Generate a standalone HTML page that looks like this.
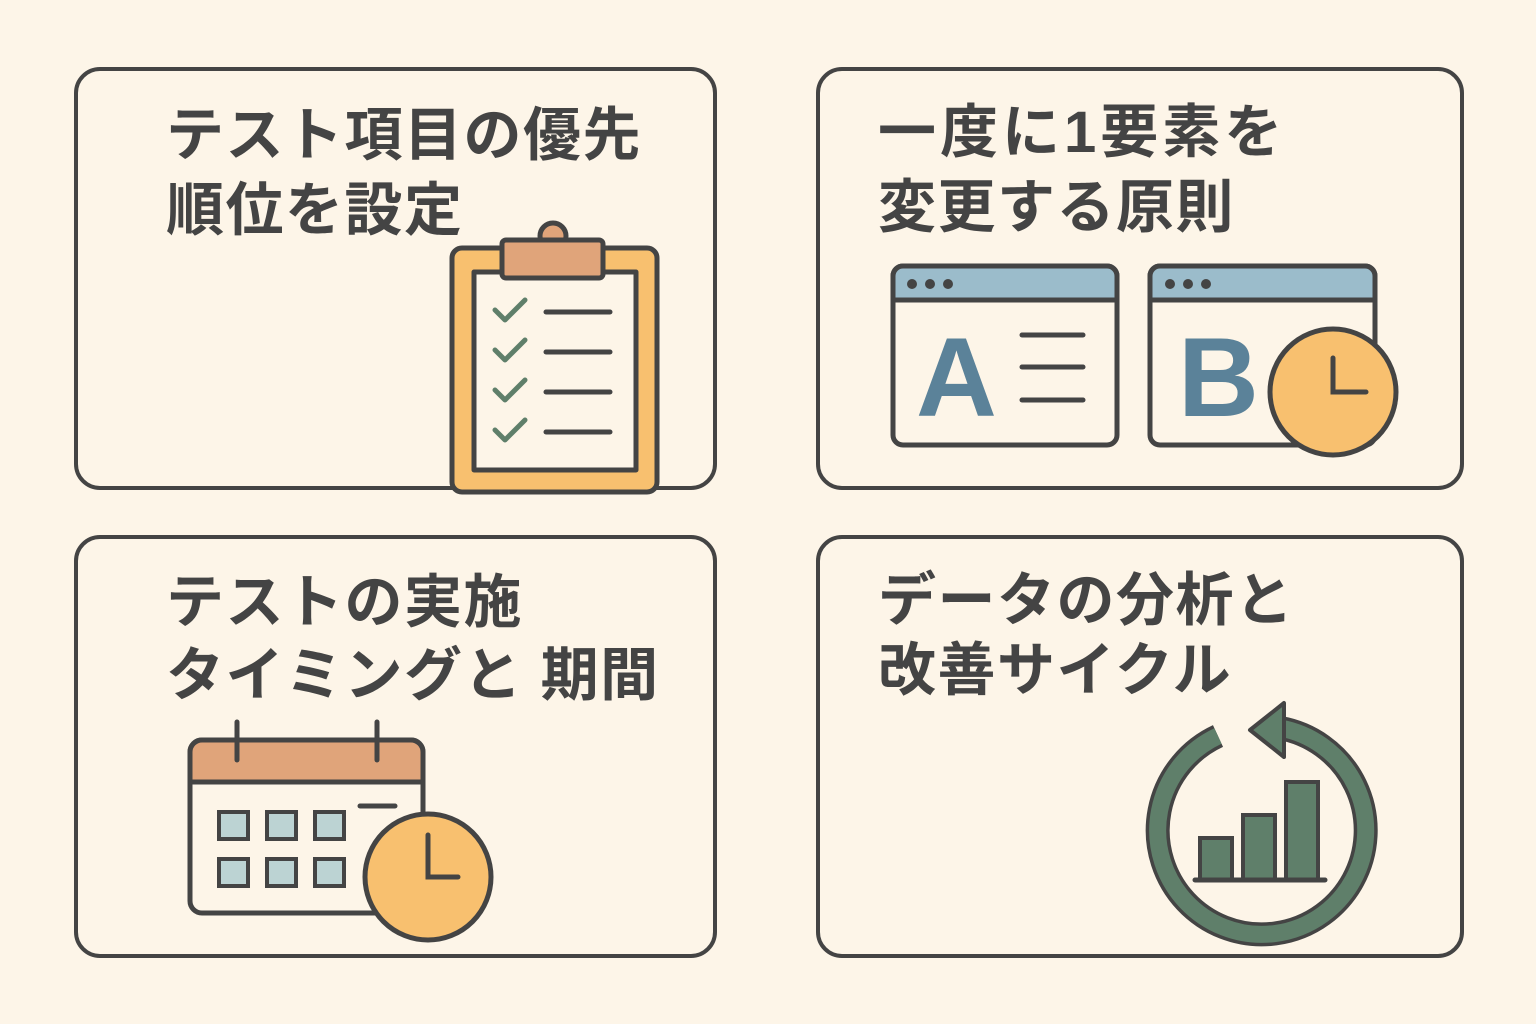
<!DOCTYPE html>
<html><head><meta charset="utf-8"><style>
html,body{margin:0;padding:0;background:#fdf5e8;}
svg{display:block}
text{font-family:"Liberation Sans","Noto Sans CJK JP",sans-serif;font-weight:700;fill:#444;}
</style></head><body>
<svg width="1536" height="1024" viewBox="0 0 1536 1024" xmlns="http://www.w3.org/2000/svg">
<rect width="1536" height="1024" fill="#fdf5e8"/>
<g fill="#fdf5e8" stroke="#444" stroke-width="4">
<rect x="76" y="69" width="639" height="419" rx="24"/>
<rect x="818" y="69" width="644" height="419" rx="24"/>
<rect x="76" y="537" width="639" height="419" rx="24"/>
<rect x="818" y="537" width="644" height="419" rx="24"/>
</g>
<g font-size="58" letter-spacing="1.5">
<text x="166" y="155">テスト項目の優先</text>
<text x="166" y="230">順位を設定</text>
<text x="878" y="152" letter-spacing="4">一度に1要素を</text>
<text x="878" y="227">変更する原則</text>
<text x="166" y="622">テストの実施</text>
<text x="166" y="695">タイミングと 期間</text>
<text x="878" y="620">データの分析と</text>
<text x="878" y="690">改善サイクル</text>
</g>
<!-- clipboard -->
<g stroke="#444" stroke-width="5" stroke-linejoin="round">
<rect x="452" y="248" width="205" height="244" rx="10" fill="#f8c06f"/>
<rect x="474" y="272" width="162" height="198" fill="#fdf5e8"/>
<circle cx="553" cy="236" r="13" fill="#e0a47a"/>
<rect x="502" y="240" width="101" height="38" rx="4" fill="#e0a47a"/>
</g>
<g stroke="#5f7f6a" stroke-width="5" fill="none" stroke-linecap="round" stroke-linejoin="round">
<path d="M495 310 l10 10 l20 -20"/><path d="M495 350 l10 10 l20 -20"/>
<path d="M495 390 l10 10 l20 -20"/><path d="M495 430 l10 10 l20 -20"/>
</g>
<g stroke="#444" stroke-width="5" stroke-linecap="round">
<line x1="546" y1="312" x2="610" y2="312"/><line x1="546" y1="352" x2="610" y2="352"/>
<line x1="546" y1="392" x2="610" y2="392"/><line x1="546" y1="432" x2="610" y2="432"/>
</g>
<!-- browsers -->
<g stroke="#444" stroke-width="5">
<rect x="893" y="266" width="224" height="179" rx="10" fill="#fdf5e8"/>
<path d="M893 300 V276 a10 10 0 0 1 10 -10 H1107 a10 10 0 0 1 10 10 V300 Z" fill="#9bbccb"/>
<rect x="1150" y="266" width="225" height="179" rx="10" fill="#fdf5e8"/>
<path d="M1150 300 V276 a10 10 0 0 1 10 -10 H1365 a10 10 0 0 1 10 10 V300 Z" fill="#9bbccb"/>
</g>
<g fill="#444"><circle cx="912" cy="284" r="5"/><circle cx="930" cy="284" r="5"/><circle cx="948" cy="284" r="5"/>
<circle cx="1170" cy="284" r="5"/><circle cx="1188" cy="284" r="5"/><circle cx="1206" cy="284" r="5"/></g>
<text x="916" y="416" font-size="112" style="fill:#5b8299">A</text>
<text x="1178" y="416" font-size="112" style="fill:#5b8299">B</text>
<g stroke="#444" stroke-width="5" stroke-linecap="round">
<line x1="1022" y1="335" x2="1083" y2="335"/><line x1="1022" y1="367" x2="1083" y2="367"/><line x1="1022" y1="400" x2="1083" y2="400"/>
</g>
<circle cx="1333" cy="392" r="63" fill="#f8c06f" stroke="#444" stroke-width="5"/>
<path d="M1333 358 V392 H1366" stroke="#444" stroke-width="5" fill="none" stroke-linecap="round"/>
<!-- calendar -->
<g stroke="#444" stroke-width="5">
<rect x="190" y="740" width="233" height="173" rx="12" fill="#fdf5e8"/>
<path d="M190 782 V752 a12 12 0 0 1 12 -12 H411 a12 12 0 0 1 12 12 V782 Z" fill="#e0a47a"/>
<line x1="237" y1="722" x2="237" y2="760" stroke-linecap="round"/>
<line x1="377" y1="722" x2="377" y2="760" stroke-linecap="round"/>
<g fill="#bcd3d3" stroke-width="4">
<rect x="219" y="812" width="29" height="27"/><rect x="267" y="812" width="29" height="27"/><rect x="315" y="812" width="29" height="27"/>
<rect x="219" y="859" width="29" height="27"/><rect x="267" y="859" width="29" height="27"/><rect x="315" y="859" width="29" height="27"/>
</g>
<line x1="360" y1="806" x2="395" y2="806" stroke-linecap="round"/>
<circle cx="428" cy="877" r="63" fill="#f8c06f"/>
<path d="M428 835 V877 H458" fill="none" stroke-linecap="round"/>
</g>
<!-- cycle -->
<path d="M1280 728 A104 104 0 1 1 1218 736" fill="none" stroke="#444" stroke-width="24"/>
<path d="M1280 728 A104 104 0 1 1 1218 736" fill="none" stroke="#5f7f6a" stroke-width="17"/>
<path d="M1250 730 L1284 703 L1284 757 Z" fill="#5f7f6a" stroke="#444" stroke-width="4" stroke-linejoin="round"/>
<g fill="#5f7f6a" stroke="#444" stroke-width="4">
<rect x="1200" y="838" width="32" height="42"/><rect x="1243" y="815" width="32" height="65"/><rect x="1286" y="782" width="32" height="98"/>
</g>
<line x1="1195" y1="880" x2="1325" y2="880" stroke="#444" stroke-width="5" stroke-linecap="round"/>
</svg>
</body></html>
